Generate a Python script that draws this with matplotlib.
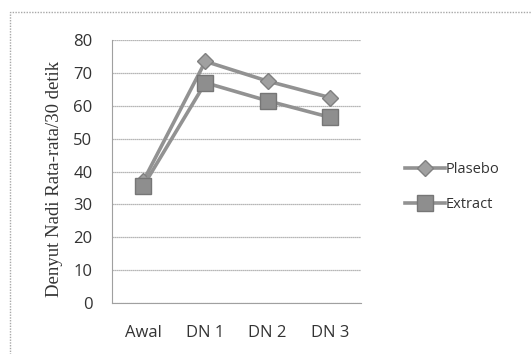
import matplotlib
matplotlib.use("Agg")
import matplotlib.pyplot as plt
from matplotlib.patches import Rectangle

categories = ["Awal", "DN 1", "DN 2", "DN 3"]
plasebo = [37, 73.5, 67.5, 62.5]
extract = [35.5, 67, 61.5, 56.5]
yticks = [0, 10, 20, 30, 40, 50, 60, 70, 80]

W, H = 532, 354
fig = plt.figure(figsize=(W / 100, H / 100), dpi=100)
fig.patch.set_facecolor("white")

# outer chart border (dotted gray)
fig.add_artist(Rectangle((10 / W, -0.05), 1.1, 1 - 12 / H + 0.05, transform=fig.transFigure,
                         fill=False, edgecolor="#a8a8a8", lw=1.0, ls=(0, (1, 1))))

ax = fig.add_axes([112 / W, 1 - 303 / H, (361 - 112) / W, (303 - 40) / H])
x = list(range(len(categories)))

line_c = "#929292"
ax.plot(x, plasebo, color=line_c, lw=2.6, marker="D", ms=8.5,
        mfc="#a0a0a0", mec="#808080", mew=1.0, label="Plasebo", zorder=3)
ax.plot(x, extract, color=line_c, lw=2.6, marker="s", ms=11,
        mfc="#8e8e8e", mec="#767676", mew=1.0, label="Extract", zorder=3)

ax.set_xlim(-0.5, len(categories) - 0.5)
ax.set_ylim(0, 80)
ax.set_yticks(yticks)
ax.set_xticks(x)
ax.set_xticklabels(categories)

ax.yaxis.grid(True, color="#a0a0a0", lw=0.9, ls=(0, (1, 0.6)))
ax.set_axisbelow(True)
for s in ["top", "right"]:
    ax.spines[s].set_visible(False)
ax.spines["left"].set_color("#a0a0a0")
ax.spines["bottom"].set_color("#a0a0a0")
ax.tick_params(axis="both", length=0, colors="#333333", labelsize=12)
ax.tick_params(axis="y", pad=14)
ax.tick_params(axis="x", pad=16)
for lab in ax.get_xticklabels() + ax.get_yticklabels():
    lab.set_fontfamily("Open Sans")

ax.set_ylabel("Denyut Nadi Rata-rata/30 detik", fontfamily="Liberation Serif",
              fontsize=13.5, color="#333333")
ax.yaxis.set_label_coords(-0.195, 0.47)

leg = fig.legend(loc="center left", bbox_to_anchor=(392 / W, 1 - 187 / H),
                 frameon=False, handlelength=2.7, handletextpad=0.1,
                 labelspacing=1.4, prop={"family": "Open Sans", "size": 10.5})
for t in leg.get_texts():
    t.set_color("#333333")

fig.savefig("out.png", dpi=100, facecolor="white")
